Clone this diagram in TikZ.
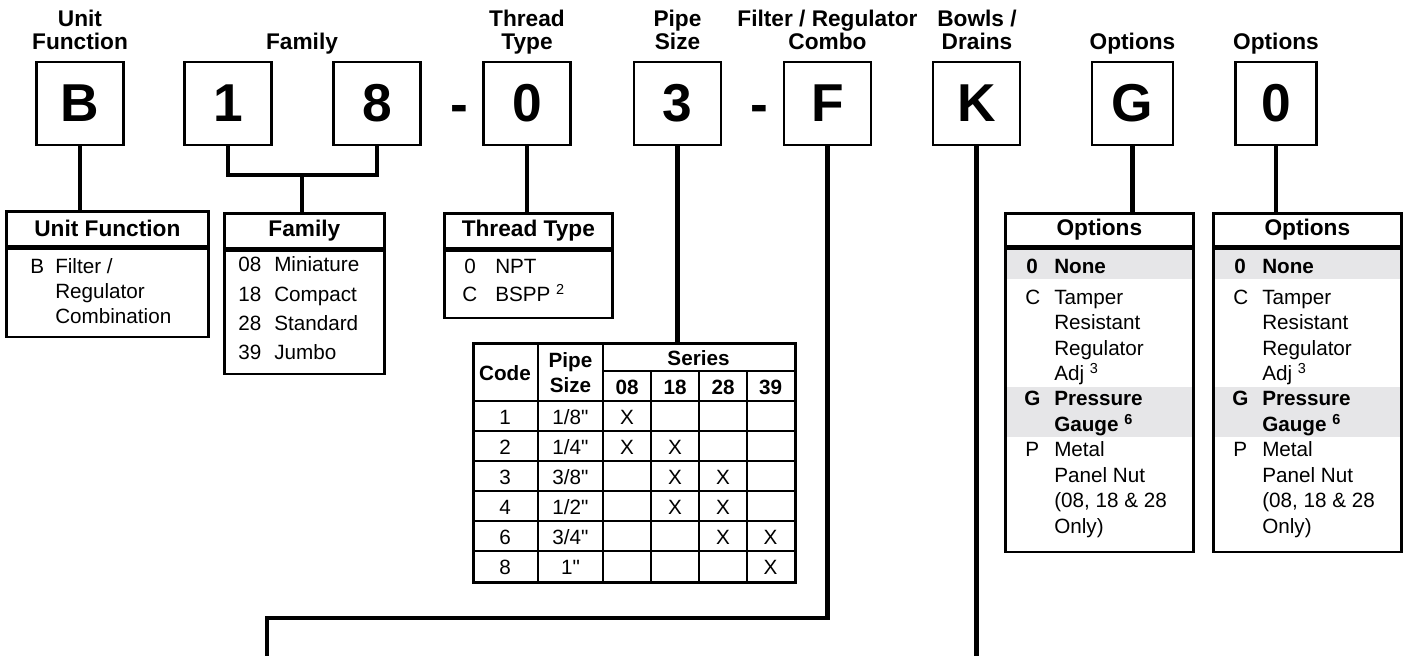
\documentclass[tikz,border=0pt]{standalone}
\usepackage{fontspec}
\setmainfont{Liberation Sans}[Ligatures=TeXOff]
\definecolor{rowgray}{RGB}{230,230,232}

\begin{document}
\begin{tikzpicture}[x=0.75pt,y=-0.75pt,
		codebox/.style={draw,line width=2pt,minimum width=65.25pt,minimum height=62.25pt,inner sep=0pt,font=\fontsize{40}{40}\selectfont\bfseries},
		hyph/.style={inner sep=0pt,anchor=base,font=\fontsize{40}{40}\selectfont\bfseries},
		lab/.style={inner sep=0pt,anchor=base,align=center,font=\fontsize{17}{17.25}\selectfont\bfseries},
		headbox/.style={draw,line width=2pt,anchor=north west,minimum height=26.25pt,inner sep=0pt,font=\fontsize{17}{17}\selectfont\bfseries},
		listbox/.style={draw,line width=2pt,anchor=north,inner sep=0pt},
		txt/.style={inner sep=0pt,anchor=base west,align=left,font=\fontsize{15.5}{19.125}\selectfont},
		txtb/.style={txt,font=\fontsize{15.5}{19.125}\selectfont\bfseries},
		cell/.style={inner sep=0pt,anchor=base,align=center,font=\fontsize{15.5}{18.75}\selectfont},
		cellb/.style={cell,font=\fontsize{15.5}{18.75}\selectfont\bfseries},
		conn/.style={line width=3.4pt},
		tgrid/.style={line width=1.6pt}]
	\useasboundingbox (0,0) rectangle (1407,656);
	
	% code letters
	\node[codebox] (b) at (80,103.5) {B};
	\node[codebox] (one) at (228,103.5) {1};
	\node[codebox] (eight) at (377,103.5) {8};
	\node[codebox] (thr) at (527,103.5) {0};
	\node[codebox] (pipe) at (677.5,103.5) {3};
	\node[codebox] (f) at (827.5,103.5) {F};
	\node[codebox] (k) at (976.5,103.5) {K};
	\node[codebox,minimum width=60.75pt] (g) at (1132.5,103.5) {G};
	\node[codebox,minimum width=60.75pt] (opt) at (1276,103.5) {0};
	\node[hyph] (hypha) at (459.5,123) {-};
	\node[hyph] (hyphb) at (759,123) {-};
	
	% labels (base = last line)
	\node[lab] (labuf) at (80,49.5) {Unit\\Function};
	\node[lab] (labfam) at (302,49.5) {Family};
	\node[lab] (labthr) at (527,49.5) {Thread\\Type};
	\node[lab] (labpipe) at (677.5,49.5) {Pipe\\Size};
	\node[lab] (labf) at (827.5,49.5) {Filter / Regulator\\Combo};
	\node[lab] (labk) at (977,49.5) {Bowls /\\Drains};
	\node[lab] (labg) at (1132.5,49.5) {Options};
	\node[lab] (labopt) at (1276,49.5) {Options};
	
	% unit function
	\node[headbox,minimum width=151.5pt] (ufh) at (5,210) {Unit Function};
	\node[listbox,minimum width=151.5pt,minimum height=66pt] (ufb) at (ufh.south) {};
	\node[txt] (ufc) at (30,273) {B};
	\node[txt,font=\fontsize{15.5}{18.75}\selectfont] (ufd) at (55,323) {Filter /\\Regulator\\Combination};
	
	% family
	\node[headbox,minimum width=120pt] (famh) at (223,212) {Family};
	\node[listbox,minimum width=120pt,minimum height=92.25pt] (famb) at (famh.south) {};
	\foreach \c/\d [count=\i] in {08/Miniature,18/Compact,28/Standard,39/Jumbo}{
		\node[txt] (famc\i) at (238,{243+29*\i}) {\c};
		\node[txt] (famd\i) at (274,{243+29*\i}) {\d};
	}
	
	% thread type
	\node[headbox,minimum width=126pt] (thrh) at (443,212) {Thread Type};
	\node[listbox,minimum width=126pt,minimum height=50.25pt] (thrb) at (thrh.south) {};
	\node[txt] (thrc1) at (464,273) {0};
	\node[txt] (thrd1) at (495,273) {NPT};
	\node[txt] (thrc2) at (462,301) {C};
	\node[txt] (thrd2) at (495,301) {BSPP \textsuperscript{2}};
	
	% pipe size table
	\node[draw,line width=2pt,anchor=north west,minimum width=241.5pt,minimum height=179.25pt,inner sep=0pt] (tbl) at (472,342) {};
	\draw[tgrid] (538,342) -- (538,581) (603,342) -- (603,581);
	\foreach \xx in {651,699,747} \draw[tgrid] (\xx,371) -- (\xx,581);
	\draw[tgrid] (603,371) -- (794,371);
	\foreach \yy in {401,431,461,491,521,551} \draw[tgrid] (472,\yy) -- (794,\yy);
	\node[cellb] (tcode) at (505,380) {Code};
	\node[cellb] (tsize) at (570.5,392) {Pipe\\Size};
	\node[cellb] (tseries) at (698.5,365) {Series};
	\foreach \s/\xx in {08/627,18/675,28/723,39/770.5}
		\node[cellb] (ts\s) at (\xx,394) {\s};
	\foreach \c/\sz/\p/\q/\r/\t [count=\i] in {1/{1/8"}/X/{}/{}/{},2/{1/4"}/X/X/{}/{},3/{3/8"}/{}/X/X/{},4/{1/2"}/{}/X/X/{},6/{3/4"}/{}/{}/X/X,8/{1"}/{}/{}/{}/X}{
		\node[cell] (tra\i) at (505,{394+30*\i}) {\c};
		\node[cell] (trb\i) at (570.5,{394+30*\i}) {\sz};
		\node[cell] (trc\i) at (627,{394+30*\i}) {\p};
		\node[cell] (trd\i) at (675,{394+30*\i}) {\q};
		\node[cell] (tre\i) at (723,{394+30*\i}) {\r};
		\node[cell] (trf\i) at (770.5,{394+30*\i}) {\t};
	}
	
	% options (two boxes)
	\foreach \ox/\nm in {0/oa,208/ob}{
		\fill[rowgray] ({1004+\ox},245) rectangle ({1192+\ox},279);
		\fill[rowgray] ({1004+\ox},387) rectangle ({1192+\ox},437);
		\node[headbox,minimum width=141pt,minimum height=24.75pt] (\nm h) at ({1004+\ox},212) {Options};
		\node[listbox,minimum width=141pt,minimum height=227.25pt] (\nm b) at (\nm h.south) {};
		\node[txtb] (\nm c1) at ({1026+\ox},273) {0};
		\node[txtb] (\nm d1) at ({1054+\ox},273) {None};
		\node[txt] (\nm c2) at ({1025+\ox},304) {C};
		\node[txt] (\nm d2) at ({1054+\ox},380.5) {Tamper\\Resistant\\Regulator\\Adj \textsuperscript{3}};
		\node[txtb] (\nm c3) at ({1024+\ox},405.5) {G};
		\node[txtb] (\nm d3) at ({1054+\ox},431) {Pressure\\Gauge \textsuperscript{6}};
		\node[txt] (\nm c4) at ({1025+\ox},456.5) {P};
		\node[txt] (\nm d4) at ({1054+\ox},533) {Metal\\Panel Nut\\(08, 18 \& 28\\Only)};
	}
	
	% connectors
	\coordinate (famjoin) at (302,175);
	\coordinate (fturn) at (267,618);
	\coordinate (fend) at (267,656);
	\coordinate (kend) at (976.5,656);
	\draw[conn] (b.south) -- (b.south |- ufh.north);
	\draw[conn] (one.south) |- (famjoin) -| (eight.south);
	\draw[conn] (famjoin) -- (famjoin |- famh.north);
	\draw[conn] (thr.south) -- (thr.south |- thrh.north);
	\draw[conn] (pipe.south) -- (pipe.south |- tbl.north);
	\draw[conn] (f.south) |- (fturn) -- (fend);
	\draw[conn] (k.south) -- (kend);
	\draw[conn] (g.south) -- (g.south |- oah.north);
	\draw[conn] (opt.south) -- (opt.south |- obh.north);
\end{tikzpicture}
\end{document}
